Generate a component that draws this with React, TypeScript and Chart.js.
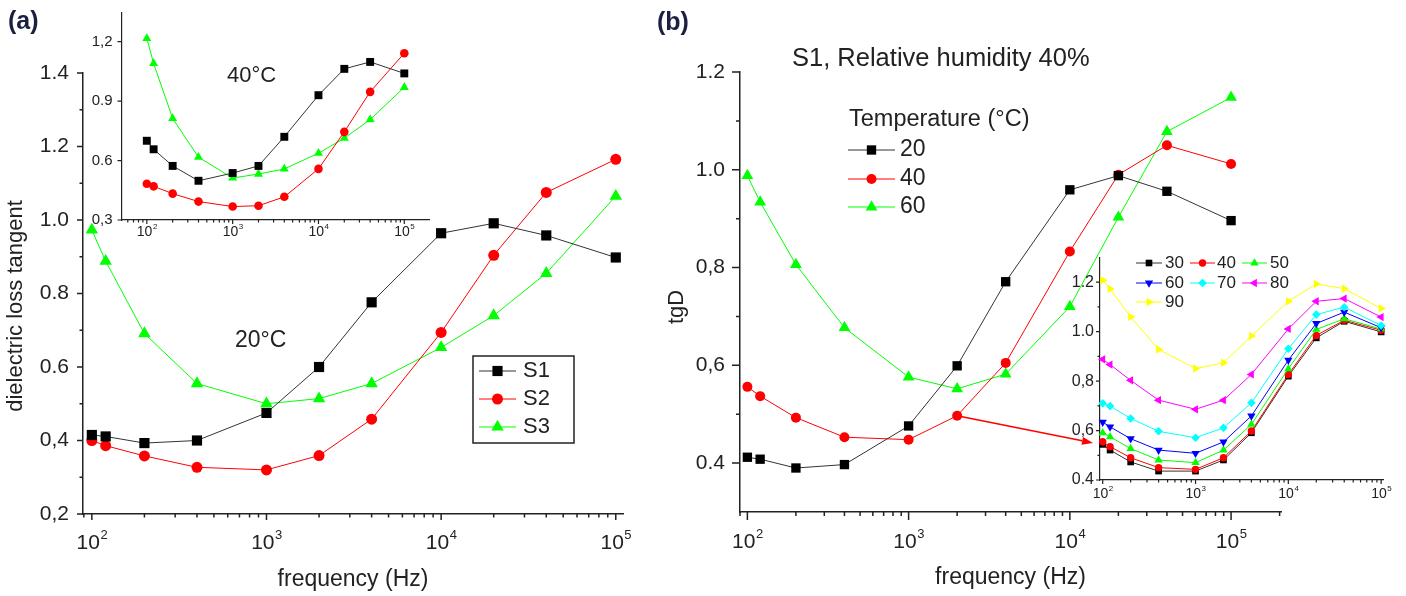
import React, { useEffect, useRef } from 'react';
import { Chart, registerables } from 'chart.js';
Chart.register(...registerables);

// ---------------- data ----------------
const FREQ = [100, 120, 200, 400, 1000, 2000, 4000, 10000, 20000, 40000, 100000];

// (a) main panel, 20 °C
const S1_20C = [0.415, 0.411, 0.393, 0.4, 0.475, 0.6, 0.776, 0.964, 0.991, 0.958, 0.898];
const S2_20C = [0.4, 0.386, 0.358, 0.327, 0.32, 0.359, 0.458, 0.694, 0.904, 1.075, 1.165];
const S3_20C = [0.973, 0.888, 0.691, 0.555, 0.5, 0.514, 0.555, 0.653, 0.74, 0.855, 1.065];

// (a) inset, 40 °C
const S1_40C = [0.7, 0.657, 0.573, 0.498, 0.537, 0.573, 0.72, 0.93, 1.063, 1.098, 1.04];
const S2_40C = [0.483, 0.47, 0.433, 0.393, 0.368, 0.372, 0.417, 0.558, 0.745, 0.947, 1.142];
const S3_40C = [1.217, 1.09, 0.813, 0.617, 0.512, 0.532, 0.558, 0.637, 0.713, 0.807, 0.97];

// (b) main panel, S1 at RH 40 %, temperatures
const T20 = [0.412, 0.408, 0.39, 0.397, 0.476, 0.599, 0.771, 0.959, 0.988, 0.956, 0.896];
const T40 = [0.556, 0.537, 0.493, 0.453, 0.448, 0.497, 0.605, 0.833, 0.99, 1.05, 1.012];
const T60 = [0.988, 0.934, 0.806, 0.677, 0.576, 0.552, 0.582, 0.72, 0.903, 1.078, 1.148];

// (b) inset, relative humidity series
const RH30 = [0.544, 0.521, 0.473, 0.436, 0.436, 0.481, 0.591, 0.82, 0.975, 1.042, 0.999];
const RH40 = [0.555, 0.535, 0.49, 0.45, 0.443, 0.49, 0.598, 0.827, 0.985, 1.046, 1.006];
const RH50 = [0.591, 0.575, 0.527, 0.481, 0.47, 0.521, 0.625, 0.85, 1.009, 1.052, 1.011];
const RH60 = [0.634, 0.615, 0.567, 0.521, 0.508, 0.554, 0.659, 0.885, 1.033, 1.079, 1.016];
const RH70 = [0.71, 0.699, 0.649, 0.597, 0.571, 0.611, 0.712, 0.931, 1.069, 1.099, 1.025];
const RH80 = [0.888, 0.867, 0.803, 0.723, 0.686, 0.723, 0.827, 1.011, 1.123, 1.134, 1.059];
const RH90 = [1.208, 1.173, 1.06, 0.928, 0.851, 0.874, 0.982, 1.123, 1.193, 1.174, 1.094];

// ticks
const DECADES = [100, 1000, 10000, 100000];
const DECADE_BASE = '10';
const DECADE_EXP = ['2', '3', '4', '5'];

const A_Y_TICKS = [0.2, 0.4, 0.6, 0.8, 1.0, 1.2, 1.4];
const A_Y_LABELS = ['0,2', '0,4', '0.6', '0.8', '1.0', '1.2', '1.4'];
const A_Y_MINOR = [0.3, 0.5, 0.7, 0.9, 1.1, 1.3];
const AI_Y_TICKS = [0.3, 0.6, 0.9, 1.2];
const AI_Y_LABELS = ['0,3', '0.6', '0.9', '1,2'];
const AI_Y_MINOR: number[] = [];
const B_Y_TICKS = [0.4, 0.6, 0.8, 1.0, 1.2];
const B_Y_LABELS = ['0.4', '0,6', '0,8', '1.0', '1.2'];
const B_Y_MINOR = [0.5, 0.7, 0.9, 1.1];
const BI_Y_TICKS = [0.4, 0.6, 0.8, 1.0, 1.2];
const BI_Y_LABELS = ['0.4', '0,6', '0,8', '1.0', '1.2'];
const BI_Y_MINOR = [0.5, 0.7, 0.9, 1.1];

// ---------------- styles ----------------
const FONT = '"Liberation Sans", Arial, sans-serif';
const TEXT = '#222222';
const AXIS = '#222222';
const PANEL_LABEL = '#1b2042';

const BLACK = '#000000';
const RED = '#ff0000';
const GREEN = '#00ff00';
const BLUE = '#0000ff';
const CYAN = '#00ffff';
const MAGENTA = '#ff00ff';
const YELLOW = '#ffff00';

type Mk = { style: string; rot: number };
const SQUARE: Mk = { style: 'rect', rot: 0 };
const CIRCLE: Mk = { style: 'circle', rot: 0 };
const UP: Mk = { style: 'triangle', rot: 0 };
const DOWN: Mk = { style: 'triangle', rot: 180 };
const LEFT: Mk = { style: 'triangle', rot: 270 };
const RIGHT: Mk = { style: 'triangle', rot: 90 };
const DIAMOND: Mk = { style: 'rectRot', rot: 0 };

type Radii = { rect: number; circle: number; triangle: number; rectRot: number };

function series(values: number[], color: string, mk: Mk, radii: Radii, lineColor?: string) {
  const r = (radii as any)[mk.style];
  return {
    data: FREQ.map((f, i) => ({ x: f, y: values[i] })),
    borderColor: lineColor || color,
    backgroundColor: color,
    pointBackgroundColor: color,
    pointBorderColor: color,
    borderWidth: 1,
    pointStyle: mk.style,
    pointRotation: mk.rot,
    pointRadius: r,
    pointHoverRadius: r,
    pointBorderWidth: 0,
    fill: false,
    tension: 0,
    clip: false,
  };
}

function drawMarker(ctx: CanvasRenderingContext2D, mk: Mk, r: number, x: number, y: number, color: string) {
  ctx.save();
  ctx.fillStyle = color;
  ctx.beginPath();
  if (mk.style === 'circle') {
    ctx.arc(x, y, r, 0, Math.PI * 2);
  } else if (mk.style === 'rect') {
    const s = Math.SQRT1_2 * r;
    ctx.rect(x - s, y - s, 2 * s, 2 * s);
  } else if (mk.style === 'rectRot') {
    ctx.moveTo(x - r, y);
    ctx.lineTo(x, y - r);
    ctx.lineTo(x + r, y);
    ctx.lineTo(x, y + r);
    ctx.closePath();
  } else {
    let a = (mk.rot * Math.PI) / 180;
    ctx.moveTo(x + Math.sin(a) * r, y - Math.cos(a) * r);
    a += (2 * Math.PI) / 3;
    ctx.lineTo(x + Math.sin(a) * r, y - Math.cos(a) * r);
    a += (2 * Math.PI) / 3;
    ctx.lineTo(x + Math.sin(a) * r, y - Math.cos(a) * r);
    ctx.closePath();
  }
  ctx.fill();
  ctx.restore();
}

function text(ctx: CanvasRenderingContext2D, s: string, x: number, y: number, size: number, opts: any = {}) {
  ctx.save();
  ctx.font = `${opts.bold ? 'bold ' : ''}${size}px ${FONT}`;
  ctx.fillStyle = opts.color || TEXT;
  ctx.textAlign = opts.align || 'left';
  ctx.textBaseline = 'middle';
  if (opts.rotate) {
    ctx.translate(x, y);
    ctx.rotate(opts.rotate);
    ctx.fillText(s, 0, 0);
  } else {
    ctx.fillText(s, x, y);
  }
  ctx.restore();
}

function legendEntry(ctx: CanvasRenderingContext2D, x0: number, x1: number, y: number, mk: Mk, r: number, color: string, lineColor: string, label: string, tx: number, size: number) {
  ctx.save();
  ctx.strokeStyle = lineColor;
  ctx.lineWidth = 1;
  ctx.beginPath();
  ctx.moveTo(x0, y);
  ctx.lineTo(x1, y);
  ctx.stroke();
  ctx.restore();
  drawMarker(ctx, mk, r, (x0 + x1) / 2, y, color);
  text(ctx, label, tx, y, size);
}

type Panel = {
  datasets: any[];
  xMin: number; xMax: number; yMin: number; yMax: number;
  yTicks: number[]; yLabels: string[]; yMinor: number[];
  tickFont: number; yTickPad: number;
  xLabelFont: number; xLabelY: number;
  yWidth: number; xHeight: number;
  padding: { left: number; top: number; right: number; bottom: number };
  xTitle?: string; xTitleFont?: number; xTitlePad?: number;
  yTitle?: string; yTitleFont?: number; yTitleX?: number; yTitleY?: number;
  major: number; minor: number; axisWidth: number;
  draw?: (chart: any) => void;
};

function drawTicks(chart: any, p: Panel) {
  const ctx: CanvasRenderingContext2D = chart.ctx;
  const xs = chart.scales.x;
  const ys = chart.scales.y;
  ctx.save();
  ctx.strokeStyle = AXIS;
  ctx.lineWidth = p.axisWidth;
  ctx.beginPath();
  const lo = Math.floor(Math.log10(xs.min));
  const hi = Math.ceil(Math.log10(xs.max));
  for (let e = lo; e <= hi; e++) {
    for (let k = 1; k < 10; k++) {
      const v = k * Math.pow(10, e);
      if (v < xs.min * 0.999 || v > xs.max * 1.001) continue;
      const px = xs.getPixelForValue(v);
      const len = k === 1 ? p.major : p.minor;
      ctx.moveTo(px, xs.top);
      ctx.lineTo(px, xs.top + len);
    }
  }
  p.yTicks.forEach((v) => {
    const py = ys.getPixelForValue(v);
    ctx.moveTo(ys.right, py);
    ctx.lineTo(ys.right - p.major, py);
  });
  p.yMinor.forEach((v) => {
    const py = ys.getPixelForValue(v);
    ctx.moveTo(ys.right, py);
    ctx.lineTo(ys.right - p.minor, py);
  });
  ctx.stroke();
  ctx.restore();

  // decade labels 10^n with raised exponent
  const F = p.xLabelFont;
  const E = Math.round(F * 0.6);
  ctx.save();
  ctx.fillStyle = TEXT;
  ctx.textAlign = 'left';
  ctx.textBaseline = 'alphabetic';
  DECADES.forEach((d, i) => {
    if (d < xs.min || d > xs.max) return;
    const px = xs.getPixelForValue(d);
    ctx.font = `${F}px ${FONT}`;
    const w1 = ctx.measureText(DECADE_BASE).width;
    ctx.font = `${E}px ${FONT}`;
    const w2 = ctx.measureText(DECADE_EXP[i]).width;
    const x0 = px - (w1 + w2) / 2;
    const yb = p.xLabelY + 0.358 * F;
    ctx.font = `${F}px ${FONT}`;
    ctx.fillText(DECADE_BASE, x0, yb);
    ctx.font = `${E}px ${FONT}`;
    ctx.fillText(DECADE_EXP[i], x0 + w1 + 0.5, yb - 0.47 * F);
  });
  ctx.restore();

  if (p.yTitle) {
    text(ctx, p.yTitle, p.yTitleX || 0, p.yTitleY || 0, p.yTitleFont || 20, { align: 'center', rotate: -Math.PI / 2 });
  }
}

function buildConfig(p: Panel): any {
  return {
    type: 'line',
    data: { datasets: p.datasets },
    options: {
      responsive: false,
      animation: false,
      devicePixelRatio: 1,
      events: [],
      layout: { padding: p.padding },
      plugins: { legend: { display: false }, tooltip: { enabled: false }, title: { display: false } },
      scales: {
        x: {
          type: 'logarithmic',
          bounds: 'data',
          min: p.xMin,
          max: p.xMax,
          grid: { display: false, drawTicks: false },
          border: { display: true, color: AXIS, width: p.axisWidth },
          ticks: { display: false, autoSkip: false, maxRotation: 0, minRotation: 0 },
          afterBuildTicks: (s: any) => {
            s.ticks = DECADES.filter((d) => d >= p.xMin && d <= p.xMax).map((d) => ({ value: d }));
          },
          afterFit: (s: any) => {
            s.height = p.xHeight;
            s.paddingLeft = 0; s.paddingRight = 0; s.paddingTop = 0; s.paddingBottom = 0;
          },
          title: {
            display: !!p.xTitle,
            text: p.xTitle || '',
            color: TEXT,
            font: { family: FONT, size: p.xTitleFont || 20 },
            padding: { top: 0, bottom: p.xTitlePad || 0 },
          },
        },
        y: {
          type: 'linear',
          bounds: 'data',
          min: p.yMin,
          max: p.yMax,
          grid: { display: false, drawTicks: false },
          border: { display: true, color: AXIS, width: p.axisWidth },
          ticks: {
            autoSkip: false,
            padding: p.yTickPad,
            color: TEXT,
            font: { family: FONT, size: p.tickFont },
            callback: (v: number) => {
              const i = p.yTicks.findIndex((t) => Math.abs(t - v) < 1e-6);
              return i >= 0 ? p.yLabels[i] : '';
            },
          },
          afterBuildTicks: (s: any) => {
            s.ticks = p.yTicks.map((t) => ({ value: t }));
          },
          afterFit: (s: any) => {
            s.width = p.yWidth;
            s.paddingLeft = 0; s.paddingRight = 0; s.paddingTop = 0; s.paddingBottom = 0;
          },
          title: { display: false },
        },
      },
    },
    plugins: [
      {
        id: 'decor',
        afterDraw(chart: any) {
          drawTicks(chart, p);
          if (p.draw) p.draw(chart);
        },
      },
    ],
  };
}

// ---------------- panels ----------------
const R_A: Radii = { rect: 7.2, circle: 5.5, triangle: 7.2, rectRot: 6 };
const R_AI: Radii = { rect: 5.6, circle: 4.3, triangle: 5.2, rectRot: 4.5 };
const R_B: Radii = { rect: 6.6, circle: 5, triangle: 6.8, rectRot: 5.5 };
const R_BI: Radii = { rect: 4.7, circle: 3.7, triangle: 4.8, rectRot: 4.3 };

function panelAMain(): Panel {
  return {
    datasets: [
      series(S1_20C, BLACK, SQUARE, R_A, '#333333'),
      series(S2_20C, RED, CIRCLE, R_A),
      series(S3_20C, GREEN, UP, R_A),
    ],
    xMin: 89, xMax: 110000, yMin: 0.2, yMax: 1.4,
    yTicks: A_Y_TICKS, yLabels: A_Y_LABELS, yMinor: A_Y_MINOR,
    tickFont: 21, yTickPad: 14,
    xLabelFont: 21, xLabelY: 541,
    yWidth: 83, xHeight: 82,
    padding: { left: 0, top: 73, right: 17, bottom: 0 },
    xTitle: 'frequency (Hz)', xTitleFont: 23, xTitlePad: 3,
    yTitle: 'dielectric loss tangent', yTitleFont: 22, yTitleX: 16, yTitleY: 306,
    major: 6, minor: 3.5, axisWidth: 1.5,
    draw: (chart: any) => {
      const ctx: CanvasRenderingContext2D = chart.ctx;
      text(ctx, '(a)', 8, 22, 25, { bold: true, color: PANEL_LABEL });
      text(ctx, '20\u00B0C', 235, 341, 23);
      ctx.save();
      ctx.strokeStyle = '#222';
      ctx.lineWidth = 1.5;
      ctx.strokeRect(473, 356, 101, 87);
      ctx.restore();
      legendEntry(ctx, 479, 516, 371, SQUARE, R_A.rect, BLACK, '#333333', 'S1', 523, 22);
      legendEntry(ctx, 479, 516, 399, CIRCLE, R_A.circle, RED, RED, 'S2', 523, 22);
      legendEntry(ctx, 479, 516, 427, UP, R_A.triangle, GREEN, GREEN, 'S3', 523, 22);
    },
  };
}

function panelAInset(): Panel {
  return {
    datasets: [
      series(S1_40C, BLACK, SQUARE, R_AI, '#333333'),
      series(S2_40C, RED, CIRCLE, R_AI),
      series(S3_40C, GREEN, UP, R_AI),
    ],
    xMin: 50.7, xMax: 194000, yMin: 0.3, yMax: 1.345,
    yTicks: AI_Y_TICKS, yLabels: AI_Y_LABELS, yMinor: AI_Y_MINOR,
    tickFont: 15, yTickPad: 9,
    xLabelFont: 14, xLabelY: 231,
    yWidth: 41.5, xHeight: 30,
    padding: { left: 0, top: 13, right: 11, bottom: 0 },
    major: 4, minor: 2.5, axisWidth: 1.2,
    draw: (chart: any) => {
      text(chart.ctx, '40\u00B0C', 147, 76, 22);
    },
  };
}

function panelBMain(): Panel {
  return {
    datasets: [
      series(T20, BLACK, SQUARE, R_B, '#333333'),
      series(T40, RED, CIRCLE, R_B),
      series(T60, GREEN, UP, R_B),
    ],
    xMin: 90, xMax: 204000, yMin: 0.3, yMax: 1.2,
    yTicks: B_Y_TICKS, yLabels: B_Y_LABELS, yMinor: B_Y_MINOR,
    tickFont: 21, yTickPad: 15,
    xLabelFont: 21, xLabelY: 540,
    yWidth: 100, xHeight: 84,
    padding: { left: 0, top: 72, right: 125, bottom: 0 },
    xTitle: 'frequency (Hz)', xTitleFont: 23, xTitlePad: 5,
    yTitle: 'tgD', yTitleFont: 22, yTitleX: 37, yTitleY: 307,
    major: 8, minor: 4, axisWidth: 1.5,
    draw: (chart: any) => {
      const ctx: CanvasRenderingContext2D = chart.ctx;
      text(ctx, '(b)', 17, 23, 25, { bold: true, color: PANEL_LABEL });
      text(ctx, 'S1, Relative humidity 40%', 152, 59, 25.5);
      text(ctx, 'Temperature (\u00B0C)', 209, 120, 23.5);
      legendEntry(ctx, 208, 255, 150, SQUARE, R_B.rect, BLACK, '#333333', '20', 260, 23);
      legendEntry(ctx, 208, 255, 179, CIRCLE, R_B.circle, RED, RED, '40', 260, 23);
      legendEntry(ctx, 208, 255, 207, UP, R_B.triangle, GREEN, GREEN, '60', 260, 23);
      // arrow from the 2000 Hz / 40 °C point toward the inset
      const xs = chart.scales.x;
      const ys = chart.scales.y;
      const sx = xs.getPixelForValue(FREQ[5]);
      const sy = ys.getPixelForValue(T40[5]);
      const ex = 453;
      const ey = 443;
      const ang = Math.atan2(ey - sy, ex - sx);
      const hl = 11;
      const hw = 4;
      ctx.save();
      ctx.strokeStyle = RED;
      ctx.fillStyle = RED;
      ctx.lineWidth = 1.5;
      ctx.beginPath();
      ctx.moveTo(sx, sy);
      ctx.lineTo(ex - Math.cos(ang) * hl, ey - Math.sin(ang) * hl);
      ctx.stroke();
      ctx.beginPath();
      ctx.moveTo(ex, ey);
      ctx.lineTo(ex - Math.cos(ang) * hl - Math.sin(ang) * hw, ey - Math.sin(ang) * hl + Math.cos(ang) * hw);
      ctx.lineTo(ex - Math.cos(ang) * hl + Math.sin(ang) * hw, ey - Math.sin(ang) * hl - Math.cos(ang) * hw);
      ctx.closePath();
      ctx.fill();
      ctx.restore();
    },
  };
}

function panelBInset(): Panel {
  return {
    datasets: [
      series(RH90, YELLOW, RIGHT, R_BI),
      series(RH80, MAGENTA, LEFT, R_BI),
      series(RH70, CYAN, DIAMOND, R_BI),
      series(RH60, BLUE, DOWN, R_BI),
      series(RH50, GREEN, UP, R_BI),
      series(RH40, RED, CIRCLE, R_BI),
      series(RH30, BLACK, SQUARE, R_BI, '#333333'),
    ],
    xMin: 93.5, xMax: 106000, yMin: 0.4, yMax: 1.3,
    yTicks: BI_Y_TICKS, yLabels: BI_Y_LABELS, yMinor: BI_Y_MINOR,
    tickFont: 16, yTickPad: 6,
    xLabelFont: 14, xLabelY: 253,
    yWidth: 50, xHeight: 30,
    padding: { left: 0, top: 17.5, right: 22.5, bottom: 0 },
    major: 4, minor: 2.5, axisWidth: 1.2,
    draw: (chart: any) => {
      const ctx: CanvasRenderingContext2D = chart.ctx;
      const f = 17;
      legendEntry(ctx, 86, 112, 23, SQUARE, R_BI.rect, BLACK, '#333333', '30', 115, f);
      legendEntry(ctx, 140, 165, 23, CIRCLE, R_BI.circle, RED, RED, '40', 167, f);
      legendEntry(ctx, 192, 217, 23, UP, R_BI.triangle, GREEN, GREEN, '50', 220, f);
      legendEntry(ctx, 86, 112, 43, DOWN, R_BI.triangle, BLUE, BLUE, '60', 115, f);
      legendEntry(ctx, 140, 165, 43, DIAMOND, R_BI.rectRot, CYAN, CYAN, '70', 167, f);
      legendEntry(ctx, 192, 217, 43, LEFT, R_BI.triangle, MAGENTA, MAGENTA, '80', 220, f);
      legendEntry(ctx, 86, 112, 62, RIGHT, R_BI.triangle, YELLOW, YELLOW, '90', 115, f);
    },
  };
}

export default function App() {
  const aMain = useRef<HTMLCanvasElement>(null);
  const aInset = useRef<HTMLCanvasElement>(null);
  const bMain = useRef<HTMLCanvasElement>(null);
  const bInset = useRef<HTMLCanvasElement>(null);

  useEffect(() => {
    const charts = [
      new Chart(aMain.current as HTMLCanvasElement, buildConfig(panelAMain())),
      new Chart(aInset.current as HTMLCanvasElement, buildConfig(panelAInset())),
      new Chart(bMain.current as HTMLCanvasElement, buildConfig(panelBMain())),
      new Chart(bInset.current as HTMLCanvasElement, buildConfig(panelBInset())),
    ];
    return () => charts.forEach((c) => c.destroy());
  }, []);

  const abs = (left: number, top: number, w: number, h: number): React.CSSProperties => ({
    position: 'absolute', left, top, width: w, height: h, display: 'block',
  });

  return (
    <div style={{ position: 'fixed', left: 0, top: 0, width: 1406, height: 596, background: '#ffffff', overflow: 'hidden' }}>
      <canvas ref={aMain} width={640} height={596} style={abs(0, 0, 640, 596)} />
      <canvas ref={bMain} width={766} height={596} style={abs(640, 0, 766, 596)} />
      <canvas ref={aInset} width={360} height={250} style={abs(80, 0, 360, 250)} />
      <canvas ref={bInset} width={356} height={270} style={abs(1050, 240, 356, 270)} />
    </div>
  );
}
